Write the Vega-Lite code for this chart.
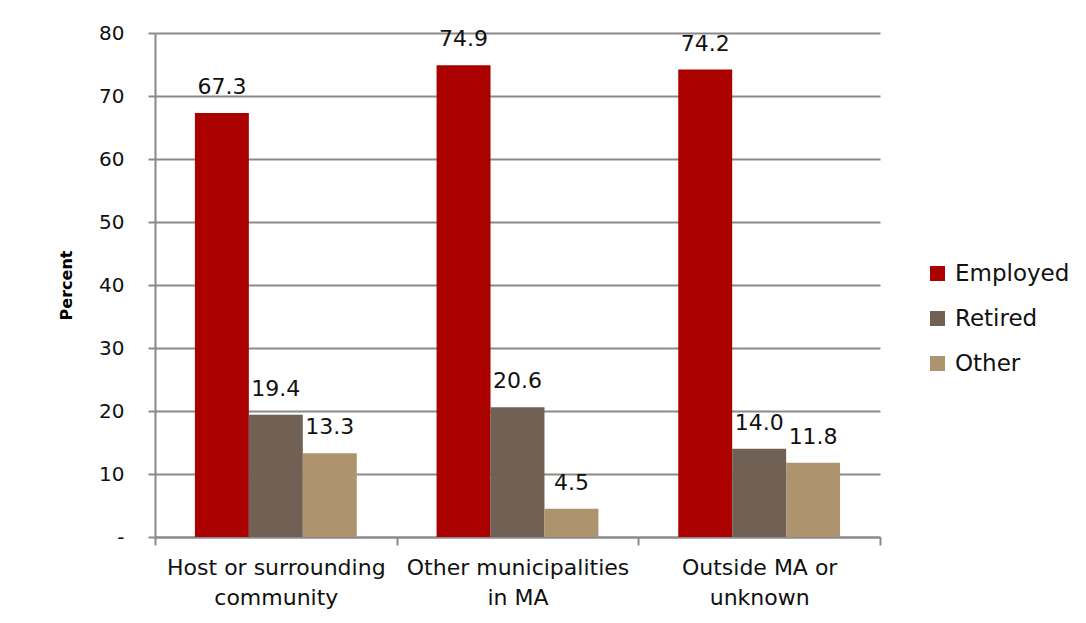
{
  "$schema": "https://vega.github.io/schema/vega-lite/v6.json",
  "autosize": "none",
  "width": 725,
  "height": 504,
  "padding": {"left": 155, "top": 33, "right": 206, "bottom": 86},
  "background": "white",
  "data": {
    "values": [
      {"origin": "Host or surrounding community", "status": "Employed", "pct": 67.3},
      {"origin": "Host or surrounding community", "status": "Retired", "pct": 19.4},
      {"origin": "Host or surrounding community", "status": "Other", "pct": 13.3},
      {"origin": "Other municipalities in MA", "status": "Employed", "pct": 74.9},
      {"origin": "Other municipalities in MA", "status": "Retired", "pct": 20.6},
      {"origin": "Other municipalities in MA", "status": "Other", "pct": 4.5},
      {"origin": "Outside MA or unknown", "status": "Employed", "pct": 74.2},
      {"origin": "Outside MA or unknown", "status": "Retired", "pct": 14.0},
      {"origin": "Outside MA or unknown", "status": "Other", "pct": 11.8}
    ]
  },
  "encoding": {
    "x": {
      "field": "origin",
      "type": "nominal",
      "sort": ["Host or surrounding community", "Other municipalities in MA", "Outside MA or unknown"],
      "scale": {"paddingInner": 0, "paddingOuter": 0},
      "axis": {
        "title": null,
        "labelAngle": 0,
        "tickBand": "extent",
        "tickSize": 8,
        "tickColor": "#8a8a8a",
        "tickWidth": 2,
        "domainColor": "#8a8a8a",
        "domainWidth": 2,
        "labelFont": "DejaVu Sans",
        "labelFontSize": 22,
        "labelColor": "#111111",
        "labelPadding": 12,
        "labelLineHeight": 30,
        "labelBaseline": "top",
        "labelLimit": 0,
        "labelOverlap": false,
        "labelExpr": "datum.value == 'Host or surrounding community' ? ['Host or surrounding', 'community'] : datum.value == 'Other municipalities in MA' ? ['Other municipalities', 'in MA'] : datum.value == 'Outside MA or unknown' ? ['Outside MA or', 'unknown'] : ''"
      }
    },
    "xOffset": {
      "field": "status",
      "type": "nominal",
      "sort": ["Employed", "Retired", "Other"],
      "scale": {"paddingInner": 0, "paddingOuter": 0.74}
    },
    "y": {
      "field": "pct",
      "type": "quantitative",
      "scale": {"domain": [0, 80], "nice": false},
      "axis": {
        "title": "Percent",
        "titleFont": "DejaVu Sans",
        "titleFontSize": 16,
        "titleFontWeight": "bold",
        "titleColor": "#000",
        "titlePadding": 24,
        "values": [0, 10, 20, 30, 40, 50, 60, 70, 80],
        "labelExpr": "datum.value == 0 ? '-' : datum.label",
        "labelFont": "DejaVu Sans",
        "labelFontSize": 20,
        "labelColor": "#111111",
        "labelPadding": 24,
        "tickSize": 7,
        "tickColor": "#8a8a8a",
        "tickWidth": 2,
        "domainColor": "#8a8a8a",
        "domainWidth": 2,
        "grid": true,
        "gridColor": "#8a8a8a",
        "gridWidth": 2
      }
    }
  },
  "layer": [
    {
      "mark": {"type": "bar"},
      "encoding": {
        "color": {
          "field": "status",
          "type": "nominal",
          "sort": ["Employed", "Retired", "Other"],
          "scale": {"domain": ["Employed", "Retired", "Other"], "range": ["#aa0000", "#716154", "#ad946e"]},
          "legend": {
            "title": null,
            "orient": "none",
            "legendX": 771,
            "legendY": 229,
            "symbolType": "square",
            "symbolSize": 225,
            "symbolStrokeWidth": 0,
            "labelFont": "DejaVu Sans",
            "labelFontSize": 23,
            "labelColor": "#111111",
            "labelOffset": 6,
            "rowPadding": 21,
            "labelLimit": 0
          }
        }
      }
    },
    {
      "mark": {"type": "text", "baseline": "bottom", "dy": -14, "font": "DejaVu Sans", "fontSize": 22, "color": "#111111"},
      "encoding": {
        "text": {"field": "pct", "type": "quantitative", "format": ".1f"}
      }
    }
  ],
  "config": {
    "view": {"stroke": null}
  }
}
